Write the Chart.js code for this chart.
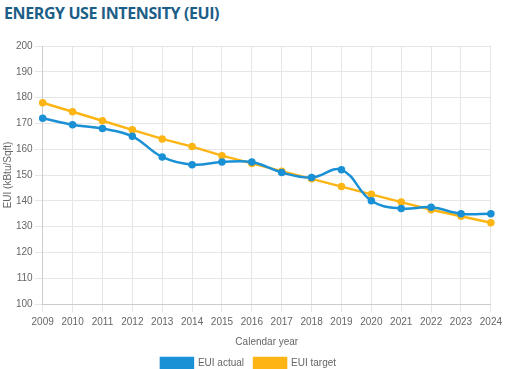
<!DOCTYPE html>
<html>
<head>
<meta charset="utf-8">
<script src="https://cdn.jsdelivr.net/npm/chart.js@4.4.0/dist/chart.umd.min.js"></script>
<style>
  html, body { margin: 0; padding: 0; background: #fff; }
  body { width: 506px; height: 369px; overflow: hidden; }
  h1 {
    margin: 0; padding: 2px 0 0 4px;
    font-family: "Open Sans", sans-serif; font-weight: 700;
    font-size: 16px; color: #1b5e87; letter-spacing: -0.4px;
    height: 24px;
  }
  #wrap { position: relative; width: 506px; height: 354px; }
</style>
</head>
<body>
<h1>ENERGY USE INTENSITY (EUI)</h1>
<div id="wrap"><canvas id="euiChart"></canvas></div>
<script>
const years = ["2009", "2010", "2011", "2012", "2013", "2014", "2015", "2016",
  "2017", "2018", "2019", "2020", "2021", "2022", "2023", "2024"];
const euiActual = [172, 169.5, 168, 165, 157, 154, 155, 155, 151, 149, 152, 140, 137, 137.5, 135, 135];
const euiTarget = [178, 174.5, 171, 167.5, 164, 161, 157.5, 154.5, 151.5, 148.5, 145.5, 142.5, 139.5, 136.5, 134, 131.5];

const blue = "#1a90d5";
const orange = "#fdb515";

Chart.defaults.font.family = "'Liberation Sans', Arial, sans-serif";
Chart.defaults.color = "#666";

const ctx = document.getElementById("euiChart").getContext("2d");
new Chart(ctx, {
  type: "line",
  data: {
    labels: years,
    datasets: [
      {
        label: "EUI actual",
        data: euiActual,
        borderColor: blue,
        backgroundColor: blue,
        borderWidth: 2.5,
        pointRadius: 2.5,
        pointBackgroundColor: blue,
        tension: 0.4,
        fill: false
      },
      {
        label: "EUI target",
        data: euiTarget,
        borderColor: orange,
        backgroundColor: orange,
        borderWidth: 2.5,
        pointRadius: 2.5,
        pointBackgroundColor: orange,
        tension: 0,
        fill: false
      }
    ]
  },
  options: {
    responsive: true,
    maintainAspectRatio: false,
    animation: false,
    layout: { padding: { left: 2, right: 11, top: 20, bottom: 2 } },
    scales: {
      x: {
        grid: { color: "#e6e6e6" },
        border: { color: "#ccc" },
        ticks: { font: { size: 10 }, maxRotation: 0, padding: 4 },
        title: { display: true, text: "Calendar year", font: { size: 10 }, padding: { top: 4, bottom: 0 } }
      },
      y: {
        min: 100,
        max: 200,
        grid: { color: "#e6e6e6" },
        border: { color: "#ccc" },
        ticks: { stepSize: 10, font: { size: 10 }, padding: 2 },
        title: { display: true, text: "EUI (kBtu/Sqft)", font: { size: 10 }, padding: 0 }
      }
    },
    plugins: {
      legend: {
        position: "bottom",
        labels: { boxWidth: 32, boxHeight: 10, font: { size: 10 }, padding: 10 }
      },
      tooltip: { enabled: false }
    }
  }
});
</script>
</body>
</html>
